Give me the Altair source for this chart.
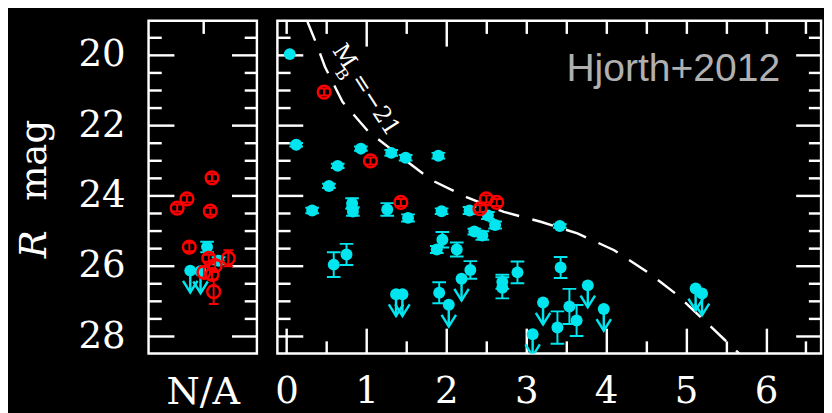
import altair as alt
import pandas as pd

CYAN = "#00e5ee"
RED = "#ff0000"
FONT = "DejaVu Serif"

# ---------------- data ----------------
# main panel, cyan detections
CX = [0.04, 0.12, 0.32, 0.53, 0.64, 0.93, 0.82, 0.83, 1.31, 1.49, 1.26, 1.52, 1.90,
      0.59, 0.75, 1.91, 1.94, 2.29, 2.52, 2.61, 2.35, 2.45, 1.95, 1.88, 2.13, 3.42,
      2.30, 2.70, 2.70, 2.89, 3.43, 3.39, 3.54, 3.63]
CY = [19.97, 22.55, 24.42, 23.72, 23.15, 22.66, 24.22, 24.45, 22.78, 22.92, 24.39, 24.63, 22.86,
      25.96, 25.67, 26.76, 24.44, 24.42, 24.56, 24.83, 25.02, 25.13, 25.25, 25.53, 25.53, 24.86,
      26.11, 26.45, 26.62, 26.18, 26.04, 27.75, 27.15, 27.55]
CERR = [0.0, 0.05, 0.08, 0.06, 0.06, 0.06, 0.15, 0.12, 0.08, 0.08, 0.18, 0.10, 0.08,
        0.35, 0.30, 0.30, 0.08, 0.10, 0.10, 0.10, 0.08, 0.12, 0.22, 0.10, 0.20, 0.05,
        0.25, 0.20, 0.30, 0.31, 0.30, 0.46, 0.50, 0.44]
# main panel, cyan upper limits
LX = [1.37, 1.45, 2.03, 2.19, 3.21, 3.08, 3.77, 3.97, 5.12, 5.20]
LY = [26.80, 26.80, 27.10, 26.36, 27.04, 27.94, 26.55, 27.22, 26.64, 26.78]
# main panel, red
RX = [0.47, 1.05, 1.43, 2.50, 2.63, 2.42]
RY = [21.05, 23.01, 24.19, 24.09, 24.19, 24.37]
RERR = [0.10, 0.10, 0.10, 0.10, 0.10, 0.10]

# N/A panel
NA_RX = [0.586, 0.354, 0.264, 0.570, 0.376, 0.736, 0.556, 0.511, 0.586, 0.615, 0.601]
NA_RY = [23.49, 24.09, 24.35, 24.44, 25.46, 25.78, 25.78, 26.18, 26.24, 25.99, 26.73]
NA_RERR = [0.10, 0.10, 0.10, 0.10, 0.12, 0.23, 0.10, 0.15, 0.15, 0.15, 0.35]
NA_CX = [0.54, 0.646]
NA_CY = [25.46, 25.85]
NA_CERR = [0.15, 0.10]
NA_LX = [0.385, 0.48]
NA_LY = [26.13, 26.15]

# M_B = -21 curve (from the top edge of the frame to the bottom edge)
MBX = [0.258, 0.27, 0.36, 0.48, 0.70, 1.03, 1.81, 2.26, 2.72, 3.18, 3.64, 4.10, 4.51, 4.89, 5.28, 5.59, 5.667]
MBY = [19.02, 19.10, 19.60, 20.33, 21.33, 22.19, 23.55, 24.05, 24.46, 24.74, 25.07, 25.55, 26.16, 26.82, 27.66, 28.33, 28.49]

# tick values
Y_MAJOR = [20, 22, 24, 26, 28]
Y_MINOR = [19.5, 20.5, 21, 21.5, 22.5, 23, 23.5, 24.5, 25, 25.5, 26.5, 27, 27.5]
X_MAJOR = [0, 1, 2, 3, 4, 5, 6]
X_MINOR = [0.5, 1.5, 2.5, 3.5, 4.5, 5.5, 6.5]
X_TOP_LONG = [1, 2]
X_TOP_SHORT = [0, 0.5, 1.5, 2.5, 3, 3.5, 4, 4.5, 5, 5.5, 6, 6.5]
NA_TOP = [0.5]

UL_LEN = 0.62

W_NA, W_MAIN, H = 111, 557, 341
LONG, SHORT = 26, 13  # tick lengths in pixels

Y_DOM = [19.02, 28.49]
X_MAIN_DOM = [-0.115, 6.69]
X_NA_DOM = [0.0, 1.0]

yscale = alt.Scale(domain=Y_DOM, reverse=True, nice=False, zero=False)
x_main = alt.Scale(domain=X_MAIN_DOM, nice=False, zero=False)
x_na = alt.Scale(domain=X_NA_DOM, nice=False, zero=False)


def tick_axis(orient, vals, length):
    # axis moved inside the frame by its tick length, so its ticks point inward to the frame
    return alt.Axis(orient=orient, values=vals, labels=False, ticks=True, tickSize=length,
                    offset=-length, tickColor="white", tickWidth=2.5, tickOpacity=1,
                    domain=False, grid=False, title=None, minExtent=0)


def axis_layer(xscale, xmid, xaxis, yaxis):
    d = pd.DataFrame({"ax": [xmid], "ay": [24.0]})
    return alt.Chart(d).mark_point(opacity=0, size=1).encode(
        x=alt.X("ax:Q", scale=xscale, axis=xaxis),
        y=alt.Y("ay:Q", scale=yscale, axis=yaxis))


def panel(xscale, xdom, width, label_x_axis, label_y_axis, det, lim, red,
          top_long, top_short, bottom_long, bottom_short, extra):
    def X(f):
        return alt.X(f, type="quantitative", scale=xscale, axis=None)

    def Y(f):
        return alt.Y(f, type="quantitative", scale=yscale, axis=None)

    xmid = 0.5 * (xdom[0] + xdom[1])
    layers = list(extra)

    # cyan detections
    dx, dy, de = det
    dd = pd.DataFrame({"x": dx, "y": dy, "e": de})
    dd["lo"] = dd["y"] - dd["e"]
    dd["hi"] = dd["y"] + dd["e"]
    de_ = dd[dd["e"] > 0]
    caps = pd.concat([de_[["x"]].assign(c=de_["lo"]), de_[["x"]].assign(c=de_["hi"])])
    layers.append(alt.Chart(de_).mark_rule(color=CYAN, strokeWidth=2, clip=True).encode(
        x=X("x"), y=Y("lo"), y2=alt.Y2("hi")))
    layers.append(alt.Chart(caps).mark_tick(color=CYAN, orient="horizontal", size=14, thickness=2,
                                            clip=True, opacity=1).encode(x=X("x"), y=Y("c")))
    layers.append(alt.Chart(dd).mark_circle(color=CYAN, size=150, opacity=1, clip=True).encode(
        x=X("x"), y=Y("y")))

    # upper limits
    lx, ly = lim
    ld = pd.DataFrame({"x": lx, "y": ly})
    ld["tip"] = ld["y"] + UL_LEN
    layers.append(alt.Chart(ld).mark_rule(color=CYAN, strokeWidth=2.5, clip=True).encode(
        x=X("x"), y=Y("y"), y2=alt.Y2("tip")))
    layers.append(alt.Chart(ld).mark_point(shape="M-1,-1.6L0,0L1,-1.6", filled=False, color=CYAN,
                                           strokeWidth=2.5, size=220, opacity=1, clip=True).encode(
        x=X("x"), y=Y("tip")))
    layers.append(alt.Chart(ld).mark_circle(color=CYAN, size=150, opacity=1, clip=True).encode(
        x=X("x"), y=Y("y")))

    # red open circles
    rx, ry, re = red
    rd = pd.DataFrame({"x": rx, "y": ry, "e": re})
    rd["lo"] = rd["y"] - rd["e"]
    rd["hi"] = rd["y"] + rd["e"]
    rcaps = pd.concat([rd[["x"]].assign(c=rd["lo"]), rd[["x"]].assign(c=rd["hi"])])
    layers.append(alt.Chart(rd).mark_rule(color=RED, strokeWidth=2, clip=True).encode(
        x=X("x"), y=Y("lo"), y2=alt.Y2("hi")))
    layers.append(alt.Chart(rcaps).mark_tick(color=RED, orient="horizontal", size=10, thickness=2,
                                             clip=True, opacity=1).encode(x=X("x"), y=Y("c")))
    layers.append(alt.Chart(rd).mark_point(color=RED, filled=False, size=170, strokeWidth=2.5,
                                           opacity=1, clip=True).encode(x=X("x"), y=Y("y")))

    # axes: one layer for the labels, further layers carrying inward tick axes
    layers.append(axis_layer(xscale, xmid, label_x_axis, label_y_axis))
    pairs = [
        (tick_axis("bottom", bottom_long, LONG) if bottom_long else None, tick_axis("left", Y_MAJOR, LONG)),
        (tick_axis("bottom", bottom_short, SHORT) if bottom_short else None, tick_axis("left", Y_MINOR, SHORT)),
        (tick_axis("top", top_long, LONG) if top_long else None, tick_axis("right", Y_MAJOR, LONG)),
        (tick_axis("top", top_short, SHORT) if top_short else None, tick_axis("right", Y_MINOR, SHORT)),
    ]
    for xa, ya in pairs:
        layers.append(axis_layer(xscale, xmid, xa, ya))

    return alt.layer(*layers).resolve_axis(x="independent", y="independent").properties(
        width=width, height=H)


def XM(f):
    return alt.X(f, type="quantitative", scale=x_main, axis=None)


def YM(f):
    return alt.Y(f, type="quantitative", scale=yscale, axis=None)


# extras for main panel
curve = alt.Chart(pd.DataFrame({"x": MBX, "y": MBY})).mark_line(
    color="white", strokeWidth=2.5, strokeDash=[22, 14], clip=True).encode(
    x=XM("x"), y=YM("y"), order="x:Q")

LAB_TXT = ["M", "B", "=\u221221"]
LAB_X = [0.72, 0.69, 1.106]
LAB_Y = [20.04, 20.55, 21.41]
LAB_SIZE = [24, 16, 24]
lab_layers = []
for t, lx_, ly_, s in zip(LAB_TXT, LAB_X, LAB_Y, LAB_SIZE):
    lab_layers.append(alt.Chart(pd.DataFrame({"x": [lx_], "y": [ly_], "t": [t]})).mark_text(
        font=FONT, fontSize=s, color="white", angle=57, align="center", baseline="middle").encode(
        x=XM("x"), y=YM("y"), text="t:N"))

REF_TXT = ["Hjorth+2012"]
REF_X = [4.84]
REF_Y = [20.74]
ref = alt.Chart(pd.DataFrame({"x": REF_X, "y": REF_Y, "t": REF_TXT})).mark_text(
    font="Liberation Sans", fontSize=40, color="#b0b0b0", align="center", baseline="alphabetic").encode(
    x=XM("x"), y=YM("y"), text="t:N")

x_axis_main = alt.Axis(orient="bottom", values=X_MAJOR, title=None, labelPadding=20, ticks=False,
                       domain=False, grid=False)
main = panel(x_main, X_MAIN_DOM, W_MAIN, x_axis_main, None,
             (CX, CY, CERR), (LX, LY), (RX, RY, RERR),
             X_TOP_LONG, X_TOP_SHORT, X_MAJOR, X_MINOR,
             [curve] + lab_layers + [ref])

# y title as text (italic R)
TITLE_TXT = ["R", "mag"]
TITLE_STYLE = ["italic", "normal"]
TITLE_PY = [243, 157]
title_layers = []
for t, st, py in zip(TITLE_TXT, TITLE_STYLE, TITLE_PY):
    title_layers.append(alt.Chart(pd.DataFrame({"t": [t]})).mark_text(
        font=FONT, fontSize=38, fontStyle=st, color="white", angle=270, align="center",
        baseline="alphabetic").encode(x=alt.value(-105), y=alt.value(py - 14), text="t:N"))

x_axis_na = alt.Axis(orient="bottom", values=[0.5], labelExpr="'N/A'", title=None, labelPadding=20,
                     labelFontSize=39, ticks=False, domain=False, grid=False)
y_axis_na = alt.Axis(orient="left", values=Y_MAJOR, title=None, labelPadding=24, ticks=False,
                     domain=False, grid=False)
na = panel(x_na, X_NA_DOM, W_NA, x_axis_na, y_axis_na,
           (NA_CX, NA_CY, NA_CERR), (NA_LX, NA_LY), (NA_RX, NA_RY, NA_RERR),
           None, NA_TOP, None, None, title_layers)

chart = alt.hconcat(na, main, spacing=14).properties(
    background="black",
    padding={"left": 7, "top": 5, "right": 0, "bottom": 0},
).configure_view(stroke="white", strokeWidth=2.5, fill="black").configure_axis(
    labelColor="white", labelFont=FONT, labelFontSize=38, grid=False, domain=False,
    labelFlush=False, labelOverlap=False, labelBound=False
)

chart.save("out.html", embed_options={"renderer": "svg", "actions": False})
